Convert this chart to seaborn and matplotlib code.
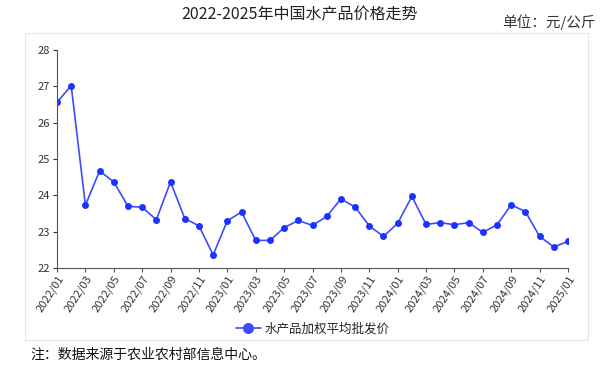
import matplotlib
matplotlib.use("Agg")
import matplotlib.pyplot as plt
import seaborn as sns
import pandas as pd
from matplotlib.patches import Rectangle

months = [f"{y}/{m:02d}" for y in (2022, 2023, 2024) for m in range(1, 13)] + ["2025/01"]
prices = [26.56, 27.02, 23.73, 24.67, 24.37, 23.70, 23.67, 23.33, 24.37, 23.36, 23.16, 22.36,
          23.30, 23.54, 22.76, 22.76, 23.11, 23.31, 23.17, 23.42, 23.90, 23.68, 23.16, 22.87,
          23.23, 23.97, 23.20, 23.25, 23.19, 23.25, 22.98, 23.19, 23.74, 23.55, 22.87, 22.58,
          22.73]
series_name = "水产品加权平均批发价"
title = "2022-2025年中国水产品价格走势"
unit = "单位：元/公斤"
note = "注：数据来源于农业农村部信息中心。"

sns.set_theme(style="white")
plt.rcParams['font.family'] = ['Noto Sans CJK SC', 'DejaVu Sans']

df = pd.DataFrame({"idx": range(len(months)), "price": prices, "series": series_name})

fig = plt.figure(figsize=(6.08, 3.70), dpi=100)
fig.patch.set_facecolor("white")
fig.add_artist(Rectangle((25/608, 1-340/370), (588-25)/608, (340-33)/370,
                         transform=fig.transFigure, fill=False, edgecolor="#e6e6e6", lw=0.8))
ax = fig.add_axes([57/608, 1-268/370, (568-57)/608, (268-50)/370])
sns.lineplot(data=df, x="idx", y="price", hue="series", palette=["#3d4cff"], marker="o",
             markersize=5, markeredgewidth=0, linewidth=1.2, ax=ax)
ax.lines[0].set_markerfacecolor("#1a33ff")
ax.set_xlim(0, len(months) - 1)
ax.set_ylim(22, 28)
ax.set_yticks(range(22, 29))
ax.set_xticks(range(0, len(months), 2))
ax.set_xticklabels(months[::2], rotation=57, ha="right", rotation_mode="anchor", fontsize=8, color="#333333")
ax.tick_params(axis="y", labelsize=8, colors="#333333", length=3, width=0.8, left=True, pad=2)
ax.tick_params(axis="x", length=3, width=0.8, bottom=True, colors="#555555", pad=1)
for lab in ax.get_xticklabels():
    lab.set_color("#333333")
ax.set_xlabel("")
ax.set_ylabel("")
for s in ["top", "right"]:
    ax.spines[s].set_visible(False)
for s in ["left", "bottom"]:
    ax.spines[s].set_color("#555555")
    ax.spines[s].set_linewidth(0.8)
ax.grid(False)
leg = ax.legend(loc="center", bbox_to_anchor=(0.5, -0.28), frameon=False, fontsize=9,
                handlelength=2, handletextpad=0.3)
for h in leg.legend_handles:
    h.set_markersize(8)

fig.text(300/608, 1-15/370, title, ha="center", va="center", fontsize=11.5, color="#222222")
fig.text(596/608, 1-22/370, unit, ha="right", va="center", fontsize=10.5, color="#333333")
fig.text(30/608, 1-355/370, note, ha="left", va="center", fontsize=10, color="#111111")

fig.savefig("out.png", dpi=100)
